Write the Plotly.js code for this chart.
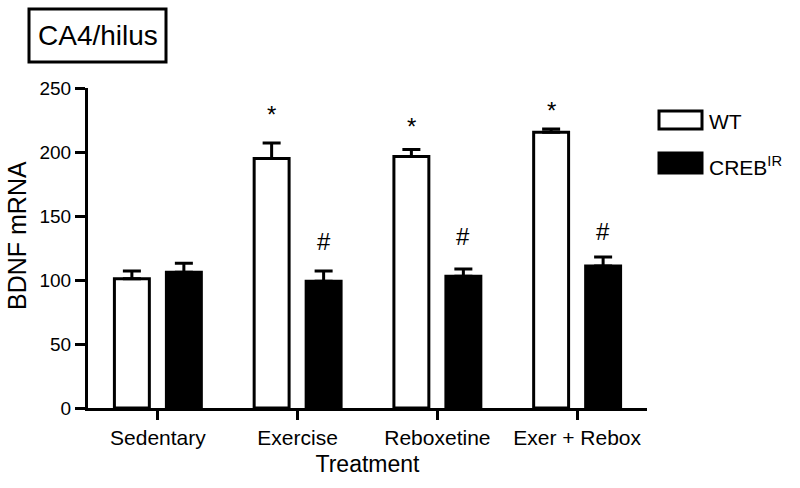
<!DOCTYPE html>
<html>
<head>
<meta charset="utf-8">
<script src="https://cdn.plot.ly/plotly-3.0.1.min.js"></script>
<style>html,body{margin:0;padding:0;background:#fff;}#chart{width:800px;height:488px;}</style>
</head>
<body>
<div id="chart"></div>
<script>
// ---- data ----
const categories = ['Sedentary', 'Exercise', 'Reboxetine', 'Exer + Rebox'];
const wtValues = [101, 195, 196.5, 215.5];
const wtErrors = [6, 12, 5.5, 2.5];
const crebValues = [106, 99, 103, 111];
const crebErrors = [7, 8, 5.5, 7];
const wtMarks = ['', '*', '*', '*'];
const wtMarkY = [null, 234, 225, 237.5];
const crebMarks = ['', '#', '#', '#'];
const crebMarkY = [null, 130, 134, 138];
const yTicks = [0, 50, 100, 150, 200, 250];

const FONT = 'Liberation Sans, Arial, Helvetica, sans-serif';
const barW = 0.25;
const half = 0.186;

const wtTrace = {
  type: 'bar', name: 'WT', x: categories, y: wtValues,
  width: barW, offset: -half - barW / 2,
  marker: {color: '#ffffff', line: {color: '#000000', width: 3}},
  error_y: {type: 'data', symmetric: false, array: wtErrors, arrayminus: wtErrors.map(() => 0),
            color: '#000000', thickness: 3, width: 9},
  showlegend: false
};
const crebTrace = {
  type: 'bar', name: 'CREB<sup>IR</sup>', x: categories, y: crebValues,
  width: barW, offset: half - barW / 2,
  marker: {color: '#000000', line: {color: '#000000', width: 3}},
  error_y: {type: 'data', symmetric: false, array: crebErrors, arrayminus: crebErrors.map(() => 0),
            color: '#000000', thickness: 3, width: 9},
  showlegend: false
};

const annotations = [];
categories.forEach((c, i) => {
  if (wtMarks[i]) annotations.push({xref: 'x', yref: 'y', x: i - half, y: wtMarkY[i], text: wtMarks[i],
    showarrow: false, yanchor: 'middle', yshift: -6, font: {family: FONT, size: 24, color: '#000'}});
  if (crebMarks[i]) annotations.push({xref: 'x', yref: 'y', x: i + half, y: crebMarkY[i], text: crebMarks[i],
    showarrow: false, yanchor: 'middle', font: {family: FONT, size: 24, color: '#000'}});
});

// panel title box
annotations.push({xref: 'paper', yref: 'paper', x: (97.5 - 88) / 559, y: (408 - 36) / 320,
  text: 'CA4/hilus', showarrow: false, xanchor: 'center', yanchor: 'middle',
  font: {family: FONT, size: 28, color: '#000'}});
// y-axis title
annotations.push({xref: 'paper', yref: 'paper', x: (17 - 88) / 559, y: (408 - 236) / 320,
  text: 'BDNF mRNA', textangle: -90, showarrow: false, xanchor: 'center', yanchor: 'middle',
  font: {family: FONT, size: 25, color: '#000'}});
// legend texts
annotations.push({xref: 'paper', yref: 'paper', x: (707 - 88) / 559, y: (408 - 121) / 320,
  text: 'WT', showarrow: false, xanchor: 'left', yanchor: 'middle',
  font: {family: FONT, size: 21, color: '#000'}});
annotations.push({xref: 'paper', yref: 'paper', x: (707 - 88) / 559, y: (408 - 166) / 320,
  text: 'CREB<sup>IR</sup>', showarrow: false, xanchor: 'left', yanchor: 'middle',
  font: {family: FONT, size: 21, color: '#000'}});

const px = v => (v - 88) / 559;
const py = v => (408 - v) / 320;
const shapes = [
  {type: 'rect', xref: 'paper', yref: 'paper', x0: px(29), x1: px(166), y0: py(62), y1: py(9),
   line: {color: '#000', width: 3}, fillcolor: 'rgba(0,0,0,0)'},
  {type: 'rect', xref: 'paper', yref: 'paper', x0: px(659), x1: px(702), y0: py(129), y1: py(111),
   line: {color: '#000', width: 3}, fillcolor: '#fff'},
  {type: 'rect', xref: 'paper', yref: 'paper', x0: px(659), x1: px(702), y0: py(173), y1: py(153),
   line: {color: '#000', width: 3}, fillcolor: '#000'}
];

const layout = {
  width: 800, height: 488, autosize: false,
  margin: {l: 88, r: 153, t: 88, b: 80, pad: 0},
  paper_bgcolor: '#fff', plot_bgcolor: '#fff',
  barmode: 'overlay',
  font: {family: FONT, color: '#000'},
  xaxis: {
    type: 'category', range: [-0.5, 3.5], showgrid: false, zeroline: false,
    showline: true, linecolor: '#000', linewidth: 3,
    ticks: 'outside', ticklen: 9, tickwidth: 3, tickcolor: '#000',
    tickfont: {family: FONT, size: 21, color: '#000'},
    title: {text: 'Treatment', font: {family: FONT, size: 23, color: '#000'}, standoff: 8},
    fixedrange: true
  },
  yaxis: {
    range: [0, 250], tickvals: yTicks, ticktext: yTicks.map(String),
    showgrid: false, zeroline: false,
    showline: true, linecolor: '#000', linewidth: 3,
    ticks: 'outside', ticklen: 10, tickwidth: 3, tickcolor: '#000',
    tickfont: {family: FONT, size: 19, color: '#000'},
    fixedrange: true
  },
  annotations: annotations,
  shapes: shapes,
  showlegend: false
};

Plotly.newPlot('chart', [wtTrace, crebTrace], layout, {displayModeBar: false, staticPlot: true});
</script>
</body>
</html>
